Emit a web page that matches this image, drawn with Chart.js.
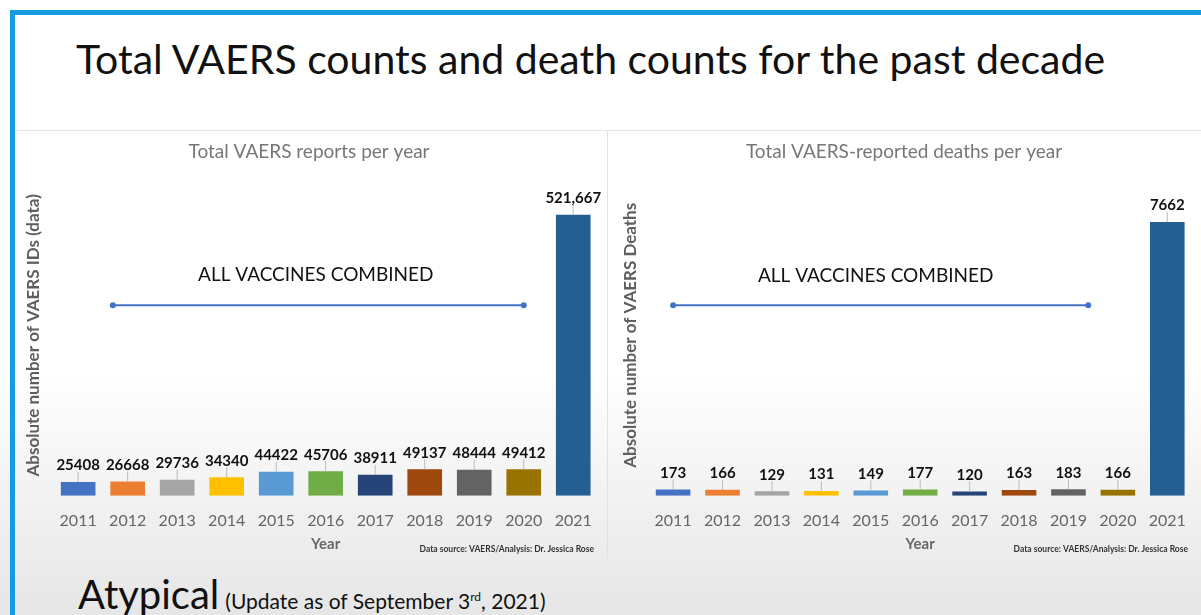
<!DOCTYPE html>
<html>
<head>
<meta charset="utf-8">
<script src="https://cdn.jsdelivr.net/npm/chart.js@4/dist/chart.umd.min.js"></script>
<style>
  html, body { margin: 0; padding: 0; }
  body {
    width: 1201px; height: 615px; overflow: hidden; position: relative;
    font-family: Lato, "Open Sans", sans-serif;
    background: linear-gradient(to bottom, #fff 0%, #fff 60%, #e6e6e6 100%);
  }
  #frame {
    position: absolute; left: 10px; top: 10px; right: 0; bottom: 0;
    border-top: 5px solid #159ce0; border-left: 5px solid #159ce0;
  }
  #title {
    position: absolute; left: -10px; width: 1201px; top: 34px; text-align: center;
    font-size: 41px; color: #111; white-space: nowrap;
  }
  #hline { position: absolute; left: 16px; right: 0; top: 130px; height: 1px; background: #e4e4e4; }
  #vline { position: absolute; left: 607px; top: 131px; width: 1px; height: 430px; background: #e2e2e2; }
  .box { position: absolute; top: 132px; height: 428px; }
  #box1 { left: 20px; width: 586px; }
  #box2 { left: 610px; width: 585px; }
  #foot { position: absolute; left: 78px; top: 570px; white-space: nowrap; color: #111; }
  #foot .big { font-size: 40px; }
  #foot .small { font-size: 21px; margin-left: 6px; }
</style>
</head>
<body>
<div id="frame"></div>
<div id="title">Total VAERS counts and death counts for the past decade</div>
<div id="hline"></div>
<div id="vline"></div>
<div class="box" id="box1"><canvas id="c1"></canvas></div>
<div class="box" id="box2"><canvas id="c2"></canvas></div>
<div id="foot"><span class="big">Atypical</span><span class="small">(Update as of September 3<sup style="font-size:12px">rd</sup>, 2021)</span></div>
<script>
const years = ['2011', '2012', '2013', '2014', '2015', '2016', '2017', '2018', '2019', '2020', '2021'];
const reports = [25408, 26668, 29736, 34340, 44422, 45706, 38911, 49137, 48444, 49412, 521667];
const deaths = [173, 166, 129, 131, 149, 177, 120, 163, 183, 166, 7662];
const barColors = ['#4472c4', '#ed7d31', '#a5a5a5', '#ffc000', '#5b9bd5', '#70ad47', '#264478', '#9e480e', '#636363', '#997300', '#255e91'];

// value labels above bars, with a thin leader line
const valueLabels = {
  id: 'valueLabels',
  afterDatasetsDraw(chart) {
    const ctx = chart.ctx;
    const meta = chart.getDatasetMeta(0);
    const vals = chart.data.datasets[0].data;
    ctx.save();
    ctx.font = 'bold 15px Lato, sans-serif';
    ctx.fillStyle = '#111';
    ctx.textAlign = 'center';
    ctx.textBaseline = 'bottom';
    meta.data.forEach((bar, i) => {
      const v = vals[i];
      const txt = v >= 100000 ? v.toLocaleString('en-US') : String(v);
      ctx.strokeStyle = '#bbb';
      ctx.lineWidth = 1;
      ctx.beginPath();
      ctx.moveTo(bar.x, bar.y - 10);
      ctx.lineTo(bar.x, bar.y);
      ctx.stroke();
      ctx.fillText(txt, bar.x, bar.y - 9);
    });
    ctx.restore();
  }
};

// "ALL VACCINES COMBINED" note with double-ended line
const combinedNote = {
  id: 'combinedNote',
  afterDatasetsDraw(chart, args, opts) {
    const ctx = chart.ctx;
    const xs = chart.scales.x, ys = chart.scales.y;
    const x1 = xs.getPixelForValue(opts.from), x2 = xs.getPixelForValue(opts.to);
    const ly = ys.getPixelForValue(opts.lineAt);
    ctx.save();
    ctx.font = '19px Lato, sans-serif';
    ctx.fillStyle = '#111';
    ctx.textAlign = 'center';
    ctx.textBaseline = 'middle';
    ctx.fillText('ALL VACCINES COMBINED', xs.getPixelForValue(opts.textAt), ys.getPixelForValue(opts.textY));
    ctx.strokeStyle = '#4472c4';
    ctx.fillStyle = '#4472c4';
    ctx.lineWidth = 2;
    ctx.beginPath();
    ctx.moveTo(x1, ly);
    ctx.lineTo(x2, ly);
    ctx.stroke();
    [x1, x2].forEach(x => { ctx.beginPath(); ctx.arc(x, ly, 3, 0, Math.PI * 2); ctx.fill(); });
    ctx.restore();
  }
};

// small source note bottom right
const sourceNote = {
  id: 'sourceNote',
  afterDraw(chart) {
    const ctx = chart.ctx;
    ctx.save();
    ctx.font = 'bold 8.5px Lato, sans-serif';
    ctx.fillStyle = '#333';
    ctx.textAlign = 'right';
    ctx.textBaseline = 'middle';
    ctx.fillText('Data source: VAERS/Analysis: Dr. Jessica Rose', chart.chartArea.right - 4, chart.height - 11);
    ctx.restore();
  }
};

function makeChart(id, values, title, yTitle, yMax, pad, yTitlePad, note) {
  return new Chart(document.getElementById(id), {
    type: 'bar',
    data: {
      labels: years,
      datasets: [{ data: values, backgroundColor: barColors, barPercentage: 0.7, categoryPercentage: 1 }]
    },
    options: {
      responsive: true,
      maintainAspectRatio: false,
      animation: false,
      layout: { padding: pad },
      plugins: {
        legend: { display: false },
        tooltip: { enabled: false },
        title: {
          display: true, text: title, color: '#777',
          font: { family: 'Lato', size: 19, weight: 'normal' },
          padding: { top: 8, bottom: 12 }
        },
        combinedNote: note
      },
      scales: {
        x: {
          grid: { display: false },
          border: { display: false },
          ticks: { color: '#666', font: { family: 'Lato', size: 16 }, padding: 7 },
          title: { display: true, text: 'Year', color: '#666', font: { family: 'Lato', size: 15, weight: 'bold' }, padding: { top: -2, bottom: 3 } }
        },
        y: {
          min: 0, max: yMax,
          grid: { display: false },
          border: { display: false },
          ticks: { display: false },
          title: { display: true, text: yTitle, color: '#5f5f5f', font: { family: 'Lato', size: 17, weight: 'bold' }, padding: yTitlePad }
        }
      }
    },
    plugins: [valueLabels, combinedNote, sourceNote]
  });
}

makeChart('c1', reports, 'Total VAERS reports per year', 'Absolute number of VAERS IDs (data)', 596000,
  { left: 0, right: 8, top: 0, bottom: 4 }, { top: 3, bottom: 2 },
  { from: 0.7, to: 9, lineAt: 354000, textAt: 4.8, textY: 410000 });
makeChart('c2', deaths, 'Total VAERS-reported deaths per year', 'Absolute number of VAERS Deaths', 8980,
  { left: 6, right: 3, top: 0, bottom: 4 }, { top: 4, bottom: 0 },
  { from: 0, to: 8.4, lineAt: 5333, textAt: 4.1, textY: 6146 });
</script>
</body>
</html>
